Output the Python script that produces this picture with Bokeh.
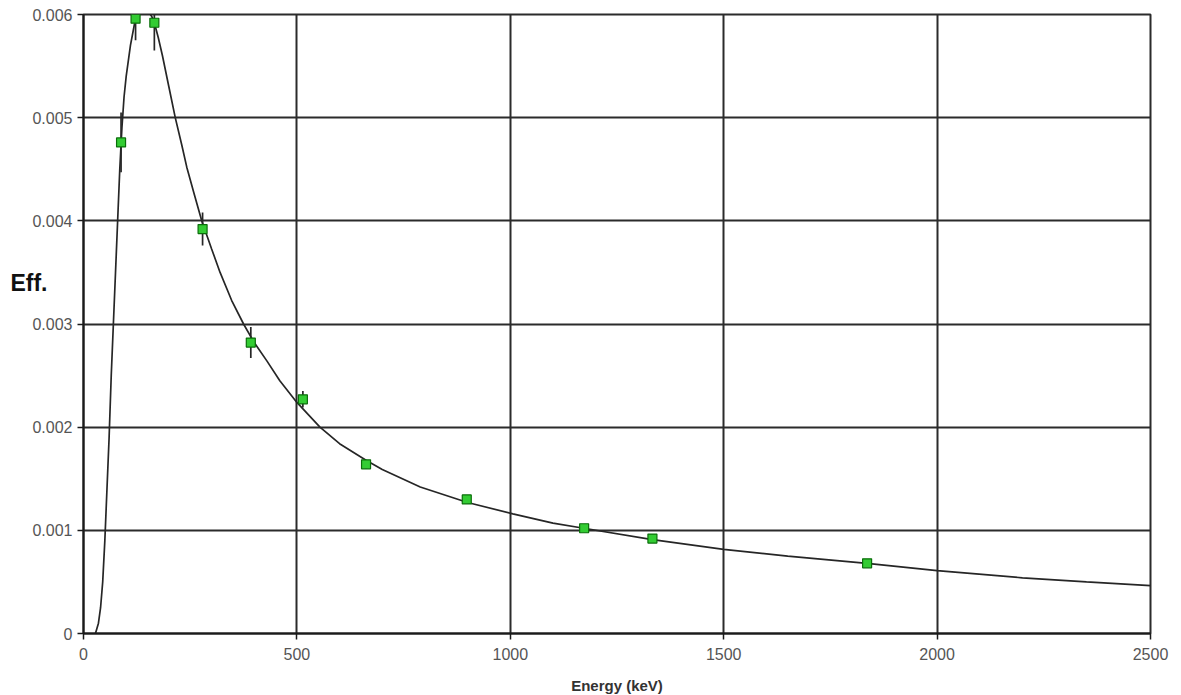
from bokeh.plotting import figure
from bokeh.embed import file_html
from bokeh.resources import INLINE

# Measured efficiency points (energy keV, efficiency, uncertainty)
energy = [88, 122, 166, 279, 392, 514, 662, 898, 1173, 1333, 1836]
eff = [0.00476, 0.00596, 0.00592, 0.00392, 0.00282, 0.00227, 0.00164, 0.00130, 0.00102, 0.00092, 0.00068]
err = [0.00029, 0.00021, 0.00027, 0.00016, 0.00015, 0.00008, 0.00004, 0.00003, 0.00002, 0.00002, 0.00002]

# Fitted efficiency curve
curve_energy = [28, 35, 40, 45, 50, 55, 60, 65, 70, 75, 80, 85, 90, 95, 100, 110, 120, 126, 135, 145,
                155, 160, 166, 175, 185, 200, 215, 230, 242, 260, 277, 300, 320, 347, 375, 400,
                430, 460, 500, 554, 600, 662, 700, 789, 900, 1006, 1100, 1172, 1333, 1500, 1650,
                1836, 2000, 2200, 2350, 2500]
curve_eff = [0.0, 0.0001, 0.00025, 0.0005, 0.0009, 0.0014, 0.0019, 0.0025, 0.0030, 0.0035, 0.0040,
             0.0045, 0.0049, 0.0052, 0.0054, 0.0057, 0.00592, 0.0060, 0.00606, 0.00606,
             0.00601, 0.00598, 0.00592, 0.00578, 0.00560, 0.00530, 0.00500, 0.00474, 0.00452,
             0.00425, 0.00400, 0.00373, 0.00350, 0.00323, 0.00300, 0.00282, 0.00264, 0.00245,
             0.00224, 0.00200, 0.00184, 0.00168, 0.00159, 0.00142, 0.00127, 0.00116, 0.00107,
             0.00102, 0.00091, 0.000816, 0.00075, 0.00068, 0.00061, 0.00054, 0.00050, 0.000465]

x_ticks = [0, 500, 1000, 1500, 2000, 2500]
y_ticks = [0, 0.001, 0.002, 0.003, 0.004, 0.005, 0.006]
y_tick_labels = ["0", "0.001", "0.002", "0.003", "0.004", "0.005", "0.006"]

FONT = "Liberation Sans"

p = figure(frame_width=1067, frame_height=619, x_range=(0, 2500), y_range=(0, 0.006),
           output_backend="svg", toolbar_location=None,
           min_border_left=83, min_border_right=20, min_border_top=14, min_border_bottom=62,
           background_fill_color="white", border_fill_color="white")

p.outline_line_color = "#2b2b2b"
p.outline_line_width = 2

p.grid.grid_line_color = "#2b2b2b"
p.grid.grid_line_width = 2
p.grid.grid_line_alpha = 1.0

p.xaxis.ticker = x_ticks
p.yaxis.ticker = y_ticks
p.yaxis.major_label_overrides = {t: l for t, l in zip(y_ticks, y_tick_labels)}

for ax in (p.xaxis, p.yaxis):
    ax.axis_line_color = "#1a1a1a"
    ax.axis_line_width = 2
    ax.major_tick_line_color = "#1a1a1a"
    ax.major_tick_line_width = 1.5
    ax.major_tick_out = 6
    ax.major_tick_in = 0
    ax.minor_tick_line_color = None
    ax.major_label_text_font = FONT
    ax.major_label_text_font_size = "16px"
    ax.major_label_text_color = "#555555"
    ax.major_label_standoff = 5

p.xaxis.major_label_standoff = 8
p.xaxis.axis_label = "Energy (keV)"
p.xaxis.axis_label_text_font = FONT
p.xaxis.axis_label_text_font_size = "15px"
p.xaxis.axis_label_text_font_style = "bold"
p.xaxis.axis_label_text_color = "#333333"
p.xaxis.axis_label_standoff = 14

# "Eff." drawn horizontally at the left, raised above the frame centre
p.yaxis.axis_label = "Eff.\n\n\n"
p.yaxis.axis_label_orientation = "horizontal"
p.yaxis.axis_label_text_font = FONT
p.yaxis.axis_label_text_font_size = "23px"
p.yaxis.axis_label_text_font_style = "bold"
p.yaxis.axis_label_text_color = "#111111"
p.yaxis.axis_label_text_line_height = 1.05
p.yaxis.axis_label_standoff = -18

p.line(curve_energy, curve_eff, line_color="#262626", line_width=1.7)

lo = [e - d for e, d in zip(eff, err)]
hi = [e + d for e, d in zip(eff, err)]
p.segment(x0=energy, y0=lo, x1=energy, y1=hi, line_color="#262626", line_width=1.7)

p.scatter(energy, eff, marker="square", size=9, fill_color="#33cc33",
          line_color="#0a6e0a", line_width=1.2)

open("out.html", "w").write(file_html(p, INLINE))
